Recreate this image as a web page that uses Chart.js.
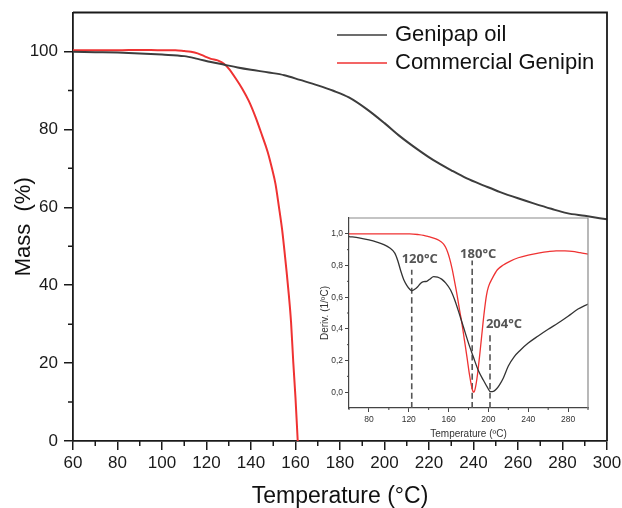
<!DOCTYPE html>
<html>
<head>
<meta charset="utf-8">
<script src="https://cdn.jsdelivr.net/npm/chart.js@4.4.1/dist/chart.umd.min.js"></script>
<style>
  body { margin: 0; background: #fff; }
  #wrap { position: relative; width: 622px; height: 508px; }
  #mainChart { position: absolute; left: 0; top: 0; }
  #insetChart { position: absolute; left: 315px; top: 213px; }
</style>
</head>
<body>
<div id="wrap">
  <canvas id="mainChart" width="622" height="508"></canvas>
  <canvas id="insetChart" width="280" height="236"></canvas>
</div>
<script>
// main TGA curves
const oilTemp = [60, 70, 80, 90, 100, 110, 116, 122, 128, 134, 140, 148, 155, 162, 170, 177, 184, 192, 200, 207, 215, 222, 230, 237, 245, 252, 260, 267, 275, 282, 290, 300];
const oilMass = [99.9, 99.8, 99.7, 99.5, 99.2, 98.8, 98.1, 97.3, 96.6, 95.9, 95.3, 94.6, 93.9, 92.7, 91.3, 89.9, 88.2, 85.2, 81.6, 78.2, 74.8, 72.1, 69.5, 67.4, 65.5, 63.9, 62.3, 61.0, 59.6, 58.5, 57.8, 56.9];

const genTemp = [60, 70, 80, 90, 100, 106, 110, 113, 116, 119, 122, 125, 128, 130, 133, 136, 139, 142, 145, 147.5, 149.5, 151, 152.5, 154, 155, 156, 157, 158, 159, 160, 161];
const genMass = [100.3, 100.3, 100.3, 100.4, 100.3, 100.3, 100.1, 99.9, 99.5, 98.8, 98.1, 97.7, 96.8, 95.6, 93.2, 90.5, 87.3, 83.2, 78.4, 74.2, 69.8, 66.0, 60.3, 54.2, 49.0, 43.5, 37.5, 30.5, 20.2, 11.0, 0];

const xTicks = [60, 80, 100, 120, 140, 160, 180, 200, 220, 240, 260, 280, 300];
const xMinor = [70, 90, 110, 130, 150, 170, 190, 210, 230, 250, 270, 290];
const yTicks = [0, 20, 40, 60, 80, 100];
const yMinor = [10, 30, 50, 70, 90];

// inset DTG curves
const oilDTemp = [60, 70, 80, 88, 95, 101, 106, 109, 112, 115, 118, 121, 123, 126, 129, 132, 135, 138, 141, 145, 149, 153, 157, 162, 166, 170, 175, 180, 185, 190, 195, 199, 202, 205, 208, 211, 215, 220, 226, 232, 240, 250, 260, 270, 280, 290, 300];
const oilDeriv = [0.983, 0.975, 0.962, 0.948, 0.932, 0.91, 0.878, 0.83, 0.765, 0.71, 0.675, 0.65, 0.641, 0.65, 0.666, 0.688, 0.698, 0.70, 0.713, 0.73, 0.727, 0.714, 0.69, 0.645, 0.585, 0.51, 0.41, 0.31, 0.22, 0.135, 0.075, 0.03, 0.003, 0.005, 0.02, 0.045, 0.09, 0.165, 0.225, 0.265, 0.31, 0.355, 0.397, 0.437, 0.48, 0.525, 0.557];

const genDTemp = [60, 80, 100, 121, 130, 135, 140, 145, 149, 152, 155, 157, 159, 161, 163.5, 166, 168.5, 171, 173.5, 176, 178.5, 181, 183, 184.5, 185.5, 187, 189, 191, 193, 195.5, 198, 200, 204, 209, 215, 222, 230, 240, 250, 260, 268, 276, 284, 292, 300];
const genDeriv = [1.0, 1.0, 1.0, 1.0, 0.995, 0.99, 0.982, 0.973, 0.963, 0.952, 0.935, 0.915, 0.885, 0.845, 0.78, 0.70, 0.615, 0.52, 0.43, 0.325, 0.22, 0.11, 0.04, 0.005, 0.0, 0.03, 0.11, 0.22, 0.34, 0.49, 0.61, 0.665, 0.72, 0.773, 0.803, 0.828, 0.849, 0.866, 0.878, 0.888, 0.893, 0.892, 0.889, 0.881, 0.872];

const peakLabels = ["120°C", "180°C", "204°C"];
const peakTemp = [123, 183.7, 201.6];
const peakTop = [0.773, 0.832, 0.374];

const inXTicks = [80, 120, 160, 200, 240, 280];
const inXMinor = [60, 100, 140, 180, 220, 260, 300];
const inYTicks = [0, 0.2, 0.4, 0.6, 0.8, 1.0];
const inYMinor = [0.1, 0.3, 0.5, 0.7, 0.9];

const FONT = "'Liberation Sans', Arial, sans-serif";
const GRAY = "#3d3d3d";
const RED = "#ef3232";

const pts = (xs, ys) => xs.map((x, i) => ({x: x, y: ys[i]}));

// no extra room for edge tick labels, layout padding decides the plot box
const noPad = s => { s.paddingTop = 0; s.paddingBottom = 0; s.paddingLeft = 0; s.paddingRight = 0; };

// short minor ticks + top/right frame
const extrasPlugin = {
  id: "extras",
  afterDraw(chart, args, o) {
    const ctx = chart.ctx;
    const sx = chart.scales.x, sy = chart.scales.y;
    const a = chart.chartArea;
    ctx.save();
    ctx.strokeStyle = o.color;
    ctx.lineWidth = o.width;
    ctx.beginPath();
    o.xMinor.forEach(v => {
      const px = sx.getPixelForValue(v);
      ctx.moveTo(px, a.bottom);
      ctx.lineTo(px, a.bottom + o.len);
    });
    o.yMinor.forEach(v => {
      const py = sy.getPixelForValue(v);
      ctx.moveTo(a.left, py);
      ctx.lineTo(a.left - o.len, py);
    });
    ctx.stroke();
    ctx.strokeStyle = o.frameColor;
    ctx.lineWidth = o.frameWidth;
    ctx.beginPath();
    ctx.moveTo(a.left, a.top);
    ctx.lineTo(a.right, a.top);
    ctx.lineTo(a.right, a.bottom);
    ctx.stroke();
    ctx.restore();
  }
};

const legendPlugin = {
  id: "boxLegend",
  afterDraw(chart, args, o) {
    const ctx = chart.ctx;
    ctx.save();
    ctx.font = o.font;
    ctx.textBaseline = "middle";
    chart.data.datasets.forEach((ds, i) => {
      const y = o.y + i * o.rowGap;
      ctx.strokeStyle = ds.borderColor;
      ctx.lineWidth = 1.6;
      ctx.beginPath();
      ctx.moveTo(o.x, y);
      ctx.lineTo(o.x + o.lineLen, y);
      ctx.stroke();
      ctx.fillStyle = "#111";
      ctx.fillText(ds.label, o.x + o.lineLen + o.gap, y);
    });
    ctx.restore();
  }
};

const peakTextPlugin = {
  id: "peakText",
  afterDatasetsDraw(chart, args, o) {
    const ctx = chart.ctx;
    const sx = chart.scales.x, sy = chart.scales.y;
    ctx.save();
    ctx.font = o.font;
    ctx.fillStyle = o.color;
    ctx.textAlign = "center";
    ctx.textBaseline = "middle";
    peakLabels.forEach((t, i) => {
      ctx.fillText(t, sx.getPixelForValue(peakTemp[i]) + o.dx[i], sy.getPixelForValue(peakTop[i]) + o.dy[i]);
    });
    ctx.restore();
  }
};

new Chart(document.getElementById("mainChart"), {
  type: "line",
  data: {
    datasets: [
      { label: "Genipap oil", data: pts(oilTemp, oilMass), borderColor: GRAY, borderWidth: 2 },
      { label: "Commercial Genipin", data: pts(genTemp, genMass), borderColor: RED, borderWidth: 2 }
    ]
  },
  options: {
    responsive: false,
    animation: false,
    elements: { point: { radius: 0 }, line: { cubicInterpolationMode: "monotone" } },
    layout: { padding: { left: 0, top: 12.5, right: 15, bottom: 0 } },
    plugins: {
      legend: { display: false },
      tooltip: { enabled: false },
      extras: { xMinor: xMinor, yMinor: yMinor, len: 5, color: "#1a1a1a", width: 1.5, frameColor: "#1a1a1a", frameWidth: 1.8 },
      boxLegend: { x: 337, y: 35, rowGap: 28, lineLen: 50, gap: 8, font: "22px " + FONT }
    },
    scales: {
      x: {
        type: "linear", min: 60, max: 300,
        afterBuildTicks: s => { s.ticks = xTicks.map(v => ({value: v})); },
        afterFit: s => { s.height = 67; noPad(s); },
        border: { color: "#1a1a1a", width: 1.8 },
        grid: { drawOnChartArea: false, tickLength: 9, color: "#1a1a1a", lineWidth: 1.5 },
        ticks: { color: "#1a1a1a", font: { family: FONT, size: 17 }, padding: 3, maxRotation: 0 },
        title: { display: true, text: "Temperature (°C)", color: "#111", font: { family: FONT, size: 23, lineHeight: 1 }, padding: { top: 0, bottom: 0 } }
      },
      y: {
        min: 0, max: 110,
        afterBuildTicks: s => { s.ticks = yTicks.map(v => ({value: v})); },
        afterFit: s => { s.width = 73; noPad(s); },
        border: { color: "#1a1a1a", width: 1.8 },
        grid: { drawOnChartArea: false, tickLength: 9, color: "#1a1a1a", lineWidth: 1.5 },
        ticks: { color: "#1a1a1a", font: { family: FONT, size: 17 }, padding: 6 },
        title: { display: true, text: "Mass  (%)", color: "#111", font: { family: FONT, size: 22, lineHeight: 1 }, padding: { top: 13, bottom: 0 } }
      }
    }
  },
  plugins: [extrasPlugin, legendPlugin]
});

const dashSets = peakTemp.map((t, i) => ({
  label: "",
  data: [{x: t, y: -0.1}, {x: t, y: peakTop[i]}],
  borderColor: "#555",
  borderWidth: 1.6,
  borderDash: [6, 3.5]
}));

new Chart(document.getElementById("insetChart"), {
  type: "line",
  data: {
    datasets: [
      { label: "oil", data: pts(oilDTemp, oilDeriv), borderColor: "#333", borderWidth: 1.3 },
      { label: "genipin", data: pts(genDTemp, genDeriv), borderColor: RED, borderWidth: 1.3 }
    ].concat(dashSets)
  },
  options: {
    responsive: false,
    animation: false,
    elements: { point: { radius: 0 }, line: { cubicInterpolationMode: "monotone" } },
    layout: { padding: { left: 0, top: 5, right: 7, bottom: 0 } },
    plugins: {
      legend: { display: false },
      tooltip: { enabled: false },
      extras: { xMinor: inXMinor, yMinor: inYMinor, len: 2, color: "#444", width: 1, frameColor: "#8a8a8a", frameWidth: 1.2 },
      peakText: { font: "bold 13px 'Open Sans', " + FONT, color: "#555", dx: [8, 6, 14], dy: [-10, -6, -9] }
    },
    scales: {
      x: {
        type: "linear", min: 60, max: 300,
        afterBuildTicks: s => { s.ticks = inXTicks.map(v => ({value: v})); },
        afterFit: s => { s.height = 41; noPad(s); },
        border: { color: "#444", width: 1.2 },
        grid: { drawOnChartArea: false, tickLength: 4, color: "#444", lineWidth: 1 },
        ticks: { color: "#333", font: { family: FONT, size: 8.5 }, padding: 3, maxRotation: 0 },
        title: { display: true, text: "Temperature (ºC)", color: "#333", font: { family: FONT, size: 10, lineHeight: 1 }, padding: { top: 0, bottom: 10 } }
      },
      y: {
        min: -0.1, max: 1.1,
        afterBuildTicks: s => { s.ticks = inYTicks.map(v => ({value: v})); },
        afterFit: s => { s.width = 34; noPad(s); },
        border: { color: "#444", width: 1.2 },
        grid: { drawOnChartArea: false, tickLength: 4, color: "#444", lineWidth: 1 },
        ticks: { color: "#333", font: { family: FONT, size: 8.5 }, padding: 2, callback: v => v.toFixed(1).replace(".", ",") },
        title: { display: true, text: "Deriv. (1/ºC)", color: "#333", font: { family: FONT, size: 10, lineHeight: 1 }, padding: { top: 5, bottom: 0 } }
      }
    }
  },
  plugins: [extrasPlugin, peakTextPlugin]
});
</script>
</body>
</html>
